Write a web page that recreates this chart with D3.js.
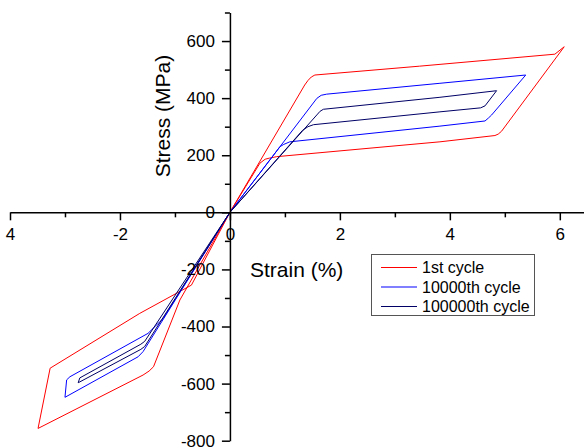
<!DOCTYPE html>
<html>
<head>
<meta charset="utf-8">
<script src="https://cdn.jsdelivr.net/npm/d3@7"></script>
<style>
  body { margin: 0; background: #fff; }
</style>
</head>
<body>
<script>
// 1st cycle (strain %, stress MPa)
const strain1 = [0, 1.36, 1.42, 1.48, 1.545, 3.45, 5.91, 6.08, 4.94, 4.88, 4.82, 3.82, 2.73, 0.85, 0.72, 0.64, 0.545, 0,
                 -0.91, -1.39, -1.47, -1.58, -3.49, -3.27, -1.64, -0.70, 0];
const stress1 = [0, 446, 462, 474, 481, 512, 554, 580, 284, 274, 269, 247, 228, 195, 190, 186, 172, 0,
                 -307, -541, -556, -570, -757, -546, -354, -255, 0];

// 10000th cycle
const strain2 = [0, 1.58, 1.66, 1.76, 3.82, 5.38, 4.76, 4.70, 4.64, 3.82, 2.73, 1.09, 0.98, 0.91, 0,
                 -1.58, -1.67, -3.0, -2.97, -2.91, -1.49, -1.21, 0];
const stress2 = [0, 399, 410, 414, 452, 481, 341, 330, 320, 302, 280, 247, 238, 230, 0,
                 -488, -506, -648, -587, -576, -424, -371, 0];

// 100000th cycle
const strain3 = [0, 1.58, 1.64, 1.70, 3.82, 4.85, 4.64, 4.56, 3.82, 1.52, 1.42, 1.32, 0,
                 -1.55, -1.62, -2.76, -2.73, -1.62, -1.55, 0];
const stress3 = [0, 341, 354, 361, 403, 426, 373, 366, 352, 307, 300, 287, 0,
                 -470, -480, -597, -580, -462, -452, 0];

const seriesNames = ["1st cycle", "10000th cycle", "100000th cycle"];
const seriesColors = ["#ff0000", "#0000ff", "#000066"];

const xMajorTicks = [-4, -2, 0, 2, 4, 6];
const xTickLabels = ["4", "-2", "0", "2", "4", "6"];
const xMinorTicks = [-3, -1, 1, 3, 5];
const yMajorTicks = [-800, -600, -400, -200, 0, 200, 400, 600];
const yTickLabels = ["-800", "-600", "-400", "-200", "0", "200", "400", "600"];
const yMinorTicks = [-700, -500, -300, -100, 100, 300, 500, 700];

const w = 584;
const h = 448;

const svg = d3.select("body")
    .append("svg")
    .attr("width", w)
    .attr("height", h)
    .style("font-family", "Arial, 'Liberation Sans', sans-serif");

const x = d3.scaleLinear().domain([-4, 6.44]).range([10, 584]);
const y = d3.scaleLinear().domain([-800, 700]).range([440.7, 12.5]);

// loops
const series = [
    d3.zip(strain1, stress1),
    d3.zip(strain2, stress2),
    d3.zip(strain3, stress3)
];

const line = d3.line()
    .x(d => x(d[0]))
    .y(d => y(d[1]));

svg.append("g")
    .selectAll("path")
    .data(series)
    .join("path")
    .attr("fill", "none")
    .attr("stroke", (d, i) => seriesColors[i])
    .attr("stroke-width", 1)
    .attr("stroke-linejoin", "round")
    .attr("d", line);

// axes through the origin
let xAxis = g => g
    .attr("transform", `translate(0,${y(0)})`)
    .call(d3.axisBottom(x)
        .tickValues(xMajorTicks)
        .tickFormat((d, i) => xTickLabels[i])
        .tickSize(8)
        .tickPadding(8)
        .tickSizeOuter(0));

let xMinor = g => g
    .attr("transform", `translate(0,${y(0)})`)
    .call(d3.axisBottom(x).tickValues(xMinorTicks).tickFormat("").tickSize(5))
    .call(g => g.select(".domain").remove());

let yAxis = g => g
    .attr("transform", `translate(${x(0)},0)`)
    .call(d3.axisLeft(y)
        .tickValues(yMajorTicks)
        .tickFormat((d, i) => yTickLabels[i])
        .tickSize(8)
        .tickPadding(7)
        .tickSizeOuter(0));

let yMinor = g => g
    .attr("transform", `translate(${x(0)},0)`)
    .call(d3.axisLeft(y).tickValues(yMinorTicks).tickFormat("").tickSize(5))
    .call(g => g.select(".domain").remove());

[xAxis, xMinor, yAxis, yMinor].forEach(a => {
    svg.append("g")
        .call(a)
        .call(g => g.selectAll("path, line").attr("stroke", "#000").attr("stroke-width", 1.5))
        .call(g => g.selectAll("text").attr("font-size", 17).attr("fill", "#000").attr("font-family", null));
});

// axis titles
svg.append("text")
    .attr("x", 250)
    .attr("y", 277)
    .attr("font-size", 21)
    .text("Strain (%)");

svg.append("text")
    .attr("transform", "translate(170,116) rotate(-90)")
    .attr("text-anchor", "middle")
    .attr("font-size", 21)
    .text("Stress (MPa)");

// legend
const legend = svg.append("g");
legend.append("rect")
    .attr("x", 371.5)
    .attr("y", 254.5)
    .attr("width", 163)
    .attr("height", 61)
    .attr("fill", "#fff")
    .attr("stroke", "#555")
    .attr("stroke-width", 1);

const rows = legend.selectAll("g.row")
    .data(seriesNames)
    .join("g")
    .attr("class", "row")
    .attr("transform", (d, i) => `translate(0,${267.5 + i * 19.5})`);

rows.append("line")
    .attr("x1", 381)
    .attr("x2", 417)
    .attr("stroke", (d, i) => seriesColors[i])
    .attr("stroke-width", 1);

rows.append("text")
    .attr("x", 422)
    .attr("dy", "0.35em")
    .attr("font-size", 16)
    .text(d => d);
</script>
</body>
</html>
